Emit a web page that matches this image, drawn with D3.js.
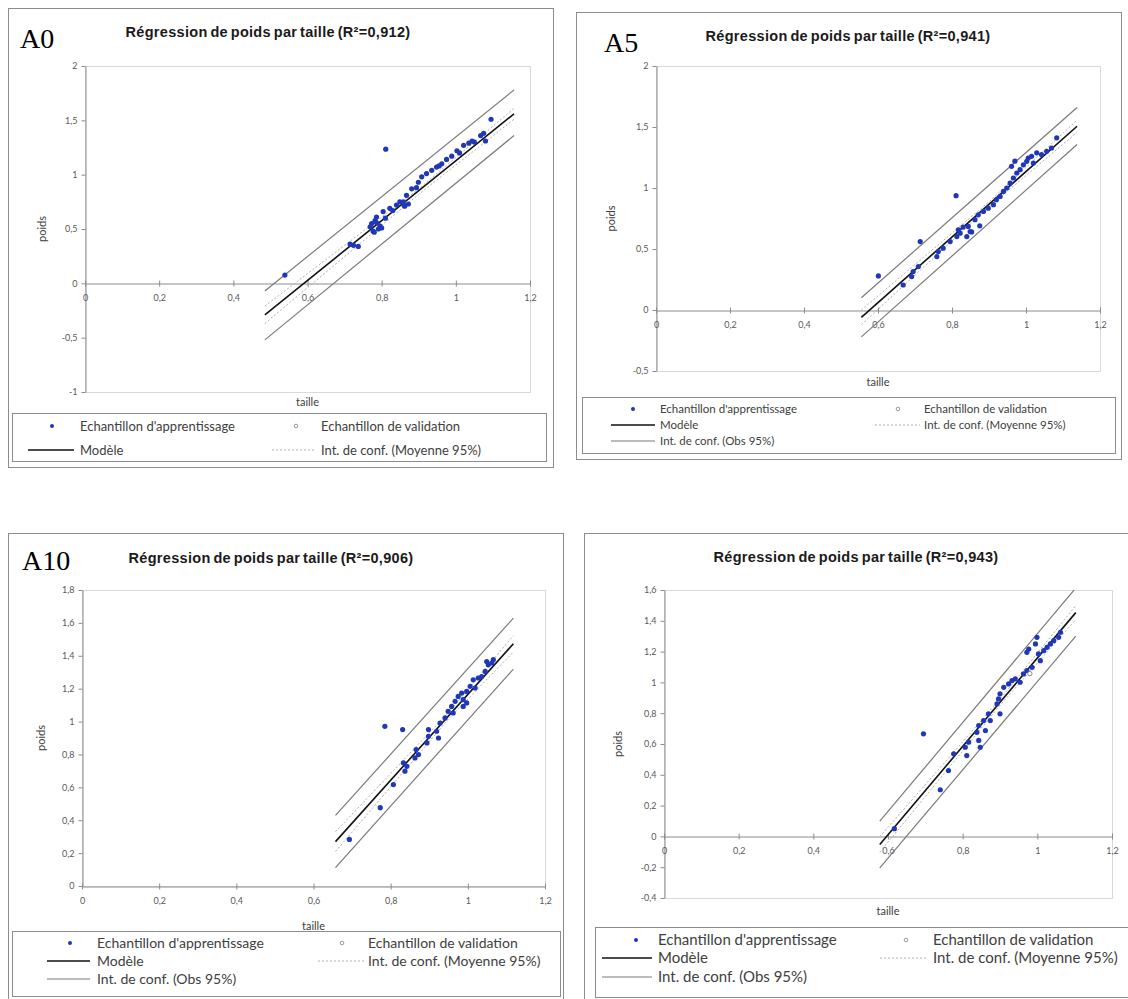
<!DOCTYPE html>
<html>
<head>
<meta charset="utf-8">
<script src="https://cdn.jsdelivr.net/npm/d3@7"></script>
<style>
  body { margin: 0; background: #fff; }
  svg { display: block; }
</style>
</head>
<body>
<svg id="fig" width="1128" height="999"></svg>
<script>
const xTicks = [0, 0.2, 0.4, 0.6, 0.8, 1, 1.2];
const yTicksA0 = [-1, -0.5, 0, 0.5, 1, 1.5, 2];
const yTicksA5 = [-0.5, 0, 0.5, 1, 1.5, 2];
const yTicksA10 = [0, 0.2, 0.4, 0.6, 0.8, 1, 1.2, 1.4, 1.6, 1.8];
const yTicksA15 = [-0.4, -0.2, 0, 0.2, 0.4, 0.6, 0.8, 1, 1.2, 1.4, 1.6];

const r2Values = ["0,912", "0,941", "0,906", "0,943"];

const a0Train = [[0.539,0.076],[0.715,0.36],[0.724,0.35],[0.737,0.34],[0.769,0.52],[0.773,0.55],[0.777,0.48],
  [0.782,0.577],[0.786,0.56],[0.786,0.61],[0.791,0.50],[0.80,0.51],[0.804,0.66],[0.795,0.53],[0.81,0.6],
  [0.811,1.235],[0.822,0.69],[0.84,0.72],[0.849,0.75],[0.858,0.75],[0.862,0.71],[0.867,0.81],[0.872,0.73],
  [0.881,0.87],[0.894,0.88],[0.899,0.93],[0.908,0.98],[0.921,1.01],[0.935,1.04],[0.948,1.07],[0.962,1.10],
  [0.975,1.14],[0.989,1.17],[1.003,1.22],[1.021,1.27],[1.035,1.29],[1.044,1.31],[1.05,1.30],[1.067,1.36],
  [1.075,1.38],[1.08,1.31],[1.095,1.51],[0.78,0.47],[0.83,0.67],[0.86,0.72],[0.955,1.08],[1.01,1.2]];
const a0Model = [[0.485,-0.29],[1.157,1.56]];
const a0ObsUp = [[0.485,-0.07],[1.157,1.78]];
const a0ObsLo = [[0.485,-0.52],[1.157,1.36]];
const a0MeanUp = [[0.485,-0.21],[0.9,0.87],[1.157,1.61]];
const a0MeanLo = [[0.485,-0.37],[0.9,0.82],[1.157,1.51]];

const a5Train = [[0.601,0.279],[0.668,0.205],[0.691,0.274],[0.695,0.315],[0.709,0.356],[0.714,0.561],
  [0.759,0.438],[0.763,0.479],[0.776,0.507],[0.795,0.561],[0.811,0.937],[0.813,0.602],[0.817,0.657],
  [0.822,0.63],[0.83,0.68],[0.84,0.602],[0.844,0.685],[0.849,0.643],[0.853,0.64],[0.862,0.74],[0.871,0.78],
  [0.875,0.69],[0.885,0.808],[0.898,0.835],[0.912,0.863],[0.92,0.904],[0.93,0.931],[0.939,0.972],[0.948,1.0],
  [0.957,1.041],[0.961,1.178],[0.966,1.082],[0.97,1.22],[0.975,1.123],[0.984,1.15],[0.993,1.19],[1.002,1.219],
  [1.006,1.246],[1.015,1.26],[1.02,1.205],[1.029,1.288],[1.042,1.274],[1.056,1.301],[1.069,1.328],[1.083,1.411]];
const a5Model = [[0.555,-0.06],[1.138,1.506]];
const a5ObsUp = [[0.555,0.10],[1.138,1.66]];
const a5ObsLo = [[0.555,-0.22],[1.138,1.356]];
const a5MeanUp = [[0.555,0.0],[0.9,0.887],[1.138,1.556]];
const a5MeanLo = [[0.555,-0.12],[0.9,0.847],[1.138,1.456]];

const a10Train = [[0.693,0.283],[0.773,0.476],[0.785,0.971],[0.807,0.617],[0.831,0.951],[0.833,0.749],
  [0.837,0.698],[0.842,0.728],[0.863,0.779],[0.866,0.83],[0.872,0.799],[0.894,0.87],[0.898,0.91],[0.898,0.951],
  [0.919,0.941],[0.924,0.9],[0.928,0.991],[0.941,1.022],[0.949,1.062],[0.958,1.092],[0.962,1.052],[0.967,1.123],
  [0.975,1.153],[0.984,1.173],[0.988,1.133],[0.988,1.092],[0.997,1.183],[0.997,1.113],[1.006,1.214],
  [1.014,1.254],[1.019,1.204],[1.027,1.265],[1.036,1.274],[1.045,1.305],[1.049,1.365],[1.053,1.345],
  [1.062,1.356],[1.066,1.376]];
const a10Model = [[0.657,0.27],[1.118,1.473]];
const a10ObsUp = [[0.657,0.429],[1.118,1.629]];
const a10ObsLo = [[0.657,0.112],[1.118,1.319]];
const a10MeanUp = [[0.657,0.33],[0.95,1.055],[1.118,1.523]];
const a10MeanLo = [[0.657,0.21],[0.95,1.015],[1.118,1.423]];

const a15Train = [[0.617,0.05],[0.695,0.666],[0.74,0.303],[0.762,0.428],[0.776,0.536],[0.807,0.579],
  [0.811,0.525],[0.816,0.612],[0.838,0.676],[0.843,0.623],[0.843,0.72],[0.847,0.579],[0.856,0.752],[0.861,0.687],
  [0.869,0.796],[0.874,0.752],[0.892,0.861],[0.896,0.893],[0.9,0.796],[0.9,0.926],[0.91,0.968],[0.923,0.99],
  [0.932,1.012],[0.941,1.023],[0.954,1.001],[0.963,1.055],[0.972,1.077],[0.972,1.195],[0.977,1.217],
  [0.986,1.098],[0.995,1.25],[0.999,1.293],[1.003,1.185],[1.008,1.141],[1.017,1.206],[1.026,1.228],
  [1.035,1.25],[1.044,1.271],[1.057,1.293],[1.062,1.325]];
const a15Valid = [[0.98,1.057]];
const a15Model = [[0.578,-0.052],[1.103,1.453]];
const a15ObsUp = [[0.578,0.099],[1.103,1.613]];
const a15ObsLo = [[0.578,-0.204],[1.103,1.30]];
const a15MeanUp = [[0.578,-0.002],[0.9,0.891],[1.103,1.498]];
const a15MeanLo = [[0.578,-0.102],[0.9,0.851],[1.103,1.408]];

const legendTexts = ["Echantillon d'apprentissage", "Echantillon de validation", "Modèle",
  "Int. de conf. (Moyenne 95%)", "Int. de conf. (Obs 95%)"];

const loc = d3.formatLocale({ decimal: ",", thousands: " ", grouping: [3], currency: ["", " €"], minus: "-" });
const fmt = loc.format("~g");

const svg = d3.select("#fig");
svg.append("rect").attr("width", 1128).attr("height", 999).attr("fill", "#fff");

const panels = [
  { tag: "A0", tagX: 20, tagY: 48, frame: [8, 8, 553, 467], plot: [85, 66, 530, 392],
    yDomain: [-1, 2], yTicks: yTicksA0, r2: r2Values[0], titleX: 268, titleY: 37,
    ylabX: 42, xlabY: 402, lgBox: [12, 413, 546, 461], lgRows: [426, 450], lgFont: 13,
    lgCol1: [52, 80, 28, 74], lgCol2: [296, 321, 272, 316], obsRow: false,
    train: a0Train, valid: [], model: a0Model, obsUp: a0ObsUp, obsLo: a0ObsLo, meanUp: a0MeanUp, meanLo: a0MeanLo },
  { tag: "A5", tagX: 604, tagY: 52, frame: [576, 12, 1121, 459], plot: [656, 66, 1100, 371],
    yDomain: [-0.5, 2], yTicks: yTicksA5, r2: r2Values[1], titleX: 848, titleY: 41,
    ylabX: 611, xlabY: 382, lgBox: [582, 397, 1115, 453], lgRows: [409, 425, 441], lgFont: 11.5,
    lgCol1: [633, 660, 611, 655], lgCol2: [898, 924, 875, 920], obsRow: true,
    train: a5Train, valid: [], model: a5Model, obsUp: a5ObsUp, obsLo: a5ObsLo, meanUp: a5MeanUp, meanLo: a5MeanLo },
  { tag: "A10", tagX: 22, tagY: 570, frame: [8, 533, 563, 1004], plot: [82, 590, 545, 886],
    yDomain: [0, 1.8], yTicks: yTicksA10, r2: r2Values[2], titleX: 271, titleY: 563,
    ylabX: 41, xlabY: 926, lgBox: [12, 931, 560, 996], lgRows: [943, 961, 979], lgFont: 14,
    lgCol1: [70, 97, 47, 90], lgCol2: [342, 368, 318, 364], obsRow: true,
    train: a10Train, valid: [], model: a10Model, obsUp: a10ObsUp, obsLo: a10ObsLo, meanUp: a10MeanUp, meanLo: a10MeanLo },
  { tag: "", tagX: 0, tagY: 0, frame: [584, 533, 1140, 1004], plot: [664, 590, 1112, 898],
    yDomain: [-0.4, 1.6], yTicks: yTicksA15, r2: r2Values[3], titleX: 856, titleY: 562,
    ylabX: 618, xlabY: 911, lgBox: [595, 927, 1140, 997], lgRows: [940, 958, 977], lgFont: 15,
    lgCol1: [636, 658, 602, 652], lgCol2: [906, 933, 880, 928], obsRow: true,
    train: a15Train, valid: a15Valid, model: a15Model, obsUp: a15ObsUp, obsLo: a15ObsLo, meanUp: a15MeanUp, meanLo: a15MeanLo }
];

const ptColor = "#2038b8";
const axisColor = "#8c8c8c";
const tickFont = "Lato, 'Open Sans', sans-serif";

panels.forEach((p, i) => drawPanel(p, i));

function drawPanel(p, i) {
  const g = svg.append("g");
  const [fx0, fy0, fx1, fy1] = p.frame;

  g.append("rect")
    .attr("x", fx0 + 0.5).attr("y", fy0 + 0.5)
    .attr("width", fx1 - fx0).attr("height", fy1 - fy0)
    .attr("fill", "#fff").attr("stroke", "#8c8c8c");

  const x = d3.scaleLinear().domain([0, 1.2]).range([p.plot[0], p.plot[2]]);
  const y = d3.scaleLinear().domain(p.yDomain).range([p.plot[3], p.plot[1]]);

  // cadre de la zone de tracé
  g.append("rect")
    .attr("x", x(0) + 0.5).attr("y", y(p.yDomain[1]) + 0.5)
    .attr("width", x(1.2) - x(0)).attr("height", y(p.yDomain[0]) - y(p.yDomain[1]))
    .attr("fill", "none").attr("stroke", "#d9d9d9");

  const ya = g.append("g")
    .attr("transform", `translate(${x(0) + 0.5},0)`)
    .call(d3.axisLeft(y).tickValues(p.yTicks).tickFormat(fmt).tickSizeInner(4).tickSizeOuter(0).tickPadding(4));

  const xa = g.append("g")
    .attr("transform", `translate(0,${Math.round(y(0)) + 0.5})`)
    .call(d3.axisBottom(x).tickValues(xTicks).tickFormat(fmt).tickSizeOuter(0));
  xa.selectAll(".tick line").attr("y1", -3).attr("y2", 3);
  xa.selectAll(".tick text").attr("y", 11);

  [ya, xa].forEach((a) => {
    a.attr("font-family", tickFont).attr("font-size", 9);
    a.select(".domain").attr("stroke", axisColor);
    a.selectAll(".tick line").attr("stroke", axisColor);
    a.selectAll(".tick text").attr("fill", "#595959");
  });

  const clipId = "clip" + i;
  g.append("clipPath").attr("id", clipId)
    .append("rect")
    .attr("x", x(0)).attr("y", y(p.yDomain[1]))
    .attr("width", x(1.2) - x(0)).attr("height", y(p.yDomain[0]) - y(p.yDomain[1]));

  const plotG = g.append("g").attr("clip-path", `url(#${clipId})`);
  const line = d3.line().x((d) => x(d[0])).y((d) => y(d[1]));

  [p.meanUp, p.meanLo].forEach((d) => {
    plotG.append("path").attr("d", line(d)).attr("fill", "none")
      .attr("stroke", "#b0b0b0").attr("stroke-width", 1).attr("stroke-dasharray", "2,2");
  });
  [p.obsUp, p.obsLo].forEach((d) => {
    plotG.append("path").attr("d", line(d)).attr("fill", "none")
      .attr("stroke", "#7a7a7a").attr("stroke-width", 1.2);
  });
  plotG.append("path").attr("d", line(p.model)).attr("fill", "none")
    .attr("stroke", "#111").attr("stroke-width", 1.6);

  plotG.selectAll("circle.train").data(p.train).enter().append("circle")
    .attr("class", "train")
    .attr("cx", (d) => x(d[0])).attr("cy", (d) => y(d[1]))
    .attr("r", 2.6).attr("fill", ptColor);

  plotG.selectAll("circle.valid").data(p.valid).enter().append("circle")
    .attr("class", "valid")
    .attr("cx", (d) => x(d[0])).attr("cy", (d) => y(d[1]))
    .attr("r", 2.2).attr("fill", "#fff").attr("stroke", "#888");

  // titre
  g.append("text")
    .attr("x", p.titleX).attr("y", p.titleY)
    .attr("text-anchor", "middle")
    .attr("font-family", "'Liberation Sans', Arial, sans-serif")
    .attr("font-weight", "bold").attr("font-size", 14.5)
    .attr("letter-spacing", 0.3)
    .attr("word-spacing", -1.5)
    .attr("fill", "#1a1a1a")
    .text(`Régression de poids par taille (R²=${p.r2})`);

  if (p.tag) {
    g.append("text")
      .attr("x", p.tagX).attr("y", p.tagY)
      .attr("font-family", "'Liberation Serif', 'Times New Roman', serif")
      .attr("font-size", 28).attr("fill", "#000")
      .text(p.tag);
  }

  const midY = (p.plot[1] + p.plot[3]) / 2;
  g.append("text")
    .attr("transform", `translate(${p.ylabX},${midY}) rotate(-90)`)
    .attr("text-anchor", "middle").attr("dy", "0.35em")
    .attr("font-family", tickFont).attr("font-size", 11).attr("fill", "#404040")
    .text("poids");

  g.append("text")
    .attr("x", (p.plot[0] + p.plot[2]) / 2).attr("y", p.xlabY)
    .attr("text-anchor", "middle").attr("dy", "0.35em")
    .attr("font-family", tickFont).attr("font-size", 11).attr("fill", "#404040")
    .text("taille");

  drawLegend(g, p);
}

function drawLegend(g, p) {
  const [bx0, by0, bx1, by1] = p.lgBox;
  g.append("rect")
    .attr("x", bx0 + 0.5).attr("y", by0 + 0.5)
    .attr("width", bx1 - bx0).attr("height", by1 - by0)
    .attr("fill", "#fff").attr("stroke", "#8c8c8c");

  const [m1, t1, l1a, l1b] = p.lgCol1;
  const [m2, t2, l2a, l2b] = p.lgCol2;
  const r = p.lgRows;
  const lg = g.append("g")
    .attr("font-family", tickFont).attr("font-size", p.lgFont).attr("fill", "#404040");

  const label = (tx, ty, s) => lg.append("text").attr("x", tx).attr("y", ty).attr("dy", "0.35em").text(s);

  lg.append("circle").attr("cx", m1).attr("cy", r[0]).attr("r", 2).attr("fill", ptColor);
  label(t1, r[0], legendTexts[0]);
  lg.append("circle").attr("cx", m2).attr("cy", r[0]).attr("r", 1.8).attr("fill", "#fff").attr("stroke", "#999");
  label(t2, r[0], legendTexts[1]);

  lg.append("line").attr("x1", l1a).attr("x2", l1b).attr("y1", r[1]).attr("y2", r[1])
    .attr("stroke", "#111").attr("stroke-width", 1.6);
  label(t1, r[1], legendTexts[2]);
  lg.append("line").attr("x1", l2a).attr("x2", l2b).attr("y1", r[1]).attr("y2", r[1])
    .attr("stroke", "#b0b0b0").attr("stroke-dasharray", "2,2");
  label(t2, r[1], legendTexts[3]);

  if (p.obsRow) {
    lg.append("line").attr("x1", l1a).attr("x2", l1b).attr("y1", r[2]).attr("y2", r[2])
      .attr("stroke", "#7a7a7a").attr("stroke-width", 1.2);
    label(t1, r[2], legendTexts[4]);
  }
}
</script>
</body>
</html>
